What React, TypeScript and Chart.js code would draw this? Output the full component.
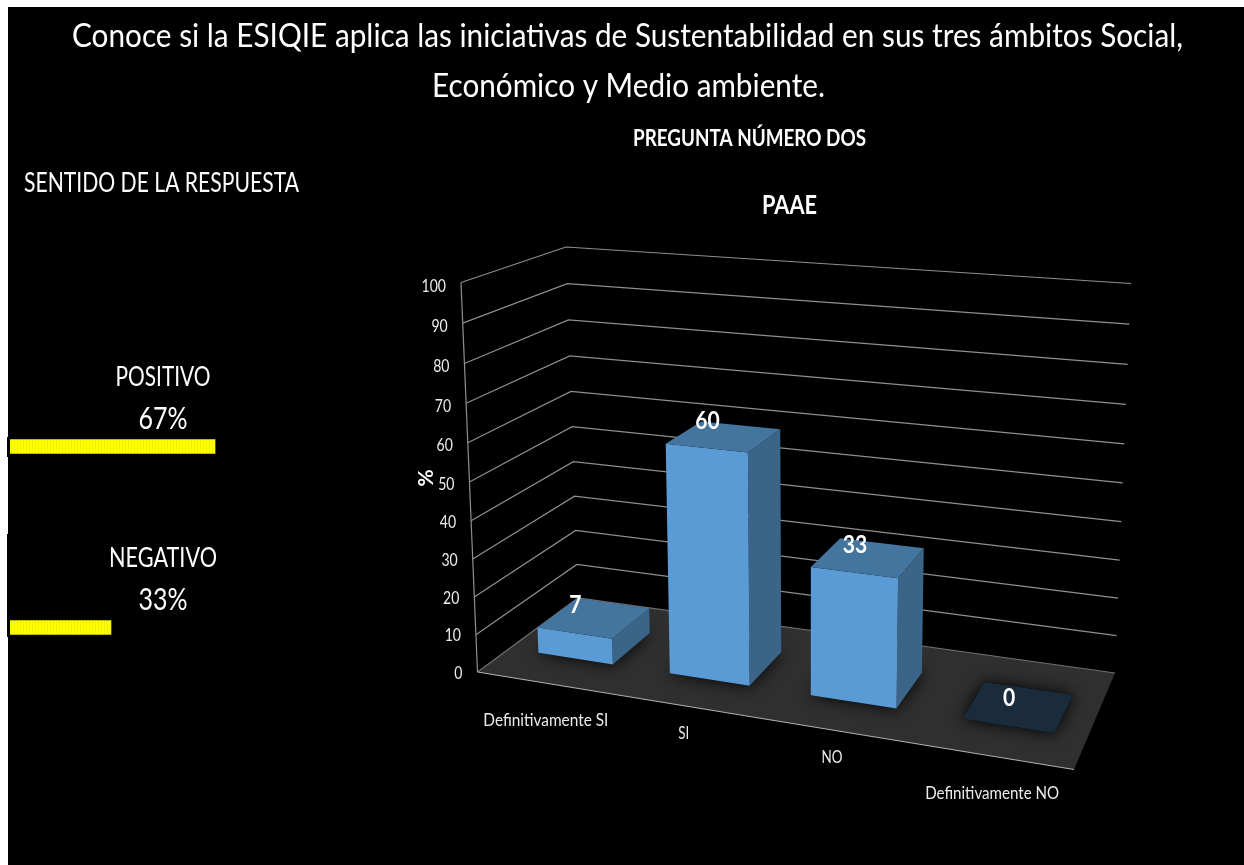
import React, { useEffect, useRef } from "react";
import { Chart, registerables } from "chart.js";

Chart.register(...registerables);

const categories = ["Definitivamente SI", "SI", "NO", "Definitivamente NO"];
const values = [7, 60, 33, 0];
const valueAxisTitle = "%";
const titleLines = [
  "Conoce si la ESIQIE aplica las iniciativas de Sustentabilidad en sus tres ámbitos Social,",
  "Económico y Medio ambiente.",
];
const subtitle = "PREGUNTA NÚMERO DOS";
const groupTitle = "PAAE";
const senseHeading = "SENTIDO DE LA RESPUESTA";
const senseLabels = ["POSITIVO", "NEGATIVO"];
const senseValues = [67, 33];

const FONT = "Lato";
const xLabelWidths = [125, 11, 21, 134];
const xLabelDy = [37, 28, 28, 37];

type Pt = [number, number];

function quad(p00: Pt, p10: Pt, p11: Pt, p01: Pt) {
  const [x0, y0] = p00, [x1, y1] = p10, [x2, y2] = p11, [x3, y3] = p01;
  const dx1 = x1 - x2, dx2 = x3 - x2, sx = x0 - x1 + x2 - x3;
  const dy1 = y1 - y2, dy2 = y3 - y2, sy = y0 - y1 + y2 - y3;
  const den = dx1 * dy2 - dx2 * dy1;
  const g = (sx * dy2 - dx2 * sy) / den;
  const h = (dx1 * sy - sx * dy1) / den;
  const a = x1 - x0 + g * x1, b = x3 - x0 + h * x3;
  const d = y1 - y0 + g * y1, e = y3 - y0 + h * y3;
  return (u: number, w: number): Pt => {
    const q = g * u + h * w + 1;
    return [(a * u + b * w + x0) / q, (d * u + e * w + y0) / q];
  };
}

// The 3D box of the plot: floor plane and the plane at the axis maximum.
const floorPlane = quad([477.5, 672], [1074, 769.5], [1115, 673], [578, 598]);
const topPlane = quad([461, 282.5], [1088.7, 330], [1131, 283.5], [566, 247]);
const HEIGHT_PERSPECTIVE = 0.953;
const project = (u: number, v: number, w: number): Pt => {
  const a = floorPlane(u, w), b = topPlane(u, w);
  const t = (v * HEIGHT_PERSPECTIVE) / (1 + v * (HEIGHT_PERSPECTIVE - 1));
  return [a[0] + (b[0] - a[0]) * t, a[1] + (b[1] - a[1]) * t];
};

const DEPTH_FRONT = 0.295;
const DEPTH_BACK = 0.7;
const BAR_SHIFT = 0.004;

function poly(ctx: CanvasRenderingContext2D, pts: Pt[], fill: string) {
  ctx.beginPath();
  pts.forEach((p, i) => (i ? ctx.lineTo(p[0], p[1]) : ctx.moveTo(p[0], p[1])));
  ctx.closePath();
  ctx.fillStyle = fill;
  ctx.fill();
}

function line(ctx: CanvasRenderingContext2D, pts: Pt[], color: string) {
  ctx.beginPath();
  pts.forEach((p, i) => (i ? ctx.lineTo(p[0], p[1]) : ctx.moveTo(p[0], p[1])));
  ctx.strokeStyle = color;
  ctx.lineWidth = 1.2;
  ctx.stroke();
}

function drawText(
  ctx: CanvasRenderingContext2D,
  text: string,
  x: number,
  y: number,
  o: { size: number; bold?: boolean; color?: string; align?: CanvasTextAlign; width?: number; sx?: number }
) {
  ctx.save();
  ctx.font = `${o.bold ? "bold " : ""}${o.size}px ${FONT}`;
  const k = o.width ? o.width / ctx.measureText(text).width : o.sx || 1;
  ctx.translate(x, y);
  ctx.scale(k, 1);
  ctx.textAlign = o.align || "center";
  ctx.textBaseline = "alphabetic";
  ctx.fillStyle = o.color || "#ffffff";
  ctx.fillText(text, 0, 0);
  ctx.restore();
}

const scene3D = {
  id: "scene3D",
  beforeDatasetsDraw(chart: any) {
    const ctx: CanvasRenderingContext2D = chart.ctx;
    const area = chart.chartArea;
    const yScale = chart.scales.y;
    const xScale = chart.scales.x;
    const vOf = (val: number) => (yScale.getPixelForValue(0) - yScale.getPixelForValue(val)) / (yScale.getPixelForValue(0) - yScale.getPixelForValue(yScale.max));

    ctx.save();
    // Page margin, then the black sheet
    ctx.fillStyle = "#ffffff";
    ctx.fillRect(0, 0, chart.width, chart.height);
    ctx.fillStyle = "#000000";
    ctx.fillRect(8, 7, chart.width - 8, chart.height - 7);
    ctx.fillRect(7, 437, 1, 20);
    ctx.fillRect(7, 534, 1, 103);

    // Titles
    drawText(ctx, titleLines[0], 627.5, 47, { size: 32, width: 1111 });
    drawText(ctx, titleLines[1], 628.5, 97, { size: 32, width: 393 });
    drawText(ctx, subtitle, 749.5, 146, { size: 23, bold: true, width: 233 });
    drawText(ctx, groupTitle, 789.5, 214, { size: 27, bold: true, width: 55 });
    drawText(ctx, senseHeading, 24, 192, { size: 27, align: "left", width: 275 });

    // Floor
    const floorPts: Pt[] = [project(0, 0, 0), project(1, 0, 0), project(1, 0, 1), project(0, 0, 1)];
    poly(ctx, floorPts, "#2f2f2f");

    // Gridlines along the side wall and the back wall
    yScale.ticks.forEach((t: any) => {
      const v = vOf(t.value);
      line(ctx, [project(0, v, 0), project(0, v, 1), project(1, v, 1)], t.value === 0 ? "#6e6e6e" : "#8f8f8f");
      const p = project(0, v, 0);
      drawText(ctx, String(t.value), p[0] - 15, p[1] + 6.5 + 2.5 * v, { size: 18, align: "right", sx: 0.78, color: "#ececec" });
    });
    line(ctx, [project(0, 0, 0), project(0, 1, 0)], "#8f8f8f");
    line(ctx, [project(0, 0, 0), project(1, 0, 0)], "#b0b0b0");

    // Bars, through the bar elements' own scale positions
    const meta = chart.getDatasetMeta(0);
    const ds = chart.data.datasets[0];
    const geom = meta.data.map((el: any, i: number) => {
      const u0 = (el.x - el.width / 2 - area.left) / area.width + BAR_SHIFT;
      const u1 = (el.x + el.width / 2 - area.left) / area.width + BAR_SHIFT;
      const v = (el.base - el.y) / area.height;
      return { u0, u1, v, uc: (el.x - area.left) / area.width + BAR_SHIFT, i };
    });

    // Soft shadows on the floor
    ctx.save();
    ctx.beginPath();
    floorPts.forEach((p, i) => (i ? ctx.lineTo(p[0], p[1]) : ctx.moveTo(p[0], p[1])));
    ctx.closePath();
    ctx.clip();
    geom.forEach((g: any) => {
      ctx.shadowColor = "rgba(0,0,0,0.95)";
      ctx.shadowBlur = 16;
      poly(ctx, [project(g.u0, 0, DEPTH_FRONT), project(g.u1, 0, DEPTH_FRONT), project(g.u1, 0, DEPTH_BACK), project(g.u0, 0, DEPTH_BACK)], "#000000");
    });
    ctx.restore();

    geom.forEach((g: any) => {
      const f0 = DEPTH_FRONT, f1 = DEPTH_BACK;
      if (g.v > 0) {
        poly(ctx, [project(g.u1, 0, f0), project(g.u1, 0, f1), project(g.u1, g.v, f1), project(g.u1, g.v, f0)], ds.sideColor);
        poly(ctx, [project(g.u0, 0, f0), project(g.u1, 0, f0), project(g.u1, g.v, f0), project(g.u0, g.v, f0)], ds.backgroundColor);
        poly(ctx, [project(g.u0, g.v, f0), project(g.u1, g.v, f0), project(g.u1, g.v, f1), project(g.u0, g.v, f1)], ds.topColor);
      } else {
        poly(ctx, [project(g.u0, 0, f0), project(g.u1, 0, f0), project(g.u1, 0, f1), project(g.u0, 0, f1)], ds.emptyColor);
      }
    });

    // Value labels
    geom.forEach((g: any) => {
      const p = project(g.uc, g.v, DEPTH_FRONT);
      drawText(ctx, String(values[g.i]), p[0] + 1, p[1] - 19.5, { size: 24, bold: true, sx: 0.88 });
    });

    // Category labels under the front floor edge
    xScale.ticks.forEach((t: any, i: number) => {
      const u = (xScale.getPixelForTick(i) - area.left) / area.width;
      const p = project(u, 0, 0);
      drawText(ctx, categories[i], p[0] + 3, p[1] + xLabelDy[i] + 6, { size: 18, width: xLabelWidths[i], color: "#ececec" });
    });

    // Value axis title
    ctx.save();
    ctx.translate(433, 478);
    ctx.rotate(-Math.PI / 2);
    drawText(ctx, valueAxisTitle, 0, 0, { size: 21, bold: true });
    ctx.restore();

    ctx.restore();
    return false;
  },
};

const senseText = {
  id: "senseText",
  afterDatasetsDraw(chart: any) {
    const ctx: CanvasRenderingContext2D = chart.ctx;
    const yScale = chart.scales.y;
    senseLabels.forEach((label, i) => {
      const y = yScale.getPixelForValue(i);
      drawText(ctx, label, 153, y - 61, { size: 26, width: i === 0 ? 95 : 108 });
      drawText(ctx, `${senseValues[i]}%`, 153, y - 17.5, { size: 30, width: 49 });
    });
  },
};

function stripes(): CanvasPattern | string {
  const c = document.createElement("canvas");
  c.width = 3;
  c.height = 1;
  const g = c.getContext("2d");
  if (!g) return "#ffff00";
  g.fillStyle = "#ffff00";
  g.fillRect(0, 0, 3, 1);
  g.fillStyle = "#f0f000";
  g.fillRect(1, 0, 1, 1);
  return g.createPattern(c, "repeat") || "#ffff00";
}

export default function App() {
  const mainRef = useRef<HTMLCanvasElement>(null);
  const sideRef = useRef<HTMLCanvasElement>(null);

  useEffect(() => {
    document.body.style.overflow = "hidden";
    const main = new Chart(mainRef.current as HTMLCanvasElement, {
      type: "bar",
      data: {
        labels: categories,
        datasets: [
          {
            label: "PAAE",
            data: values,
            backgroundColor: "#5b9bd5",
            sideColor: "#3b6588",
            topColor: "#44759f",
            emptyColor: "#1a2b3b",
            barPercentage: 1,
            categoryPercentage: 0.575,
          } as any,
        ],
      },
      options: {
        animation: false,
        responsive: false,
        layout: { padding: 0 },
        plugins: { legend: { display: false }, tooltip: { enabled: false } },
        scales: {
          x: { display: false, offset: true },
          y: { display: false, min: 0, max: 100, ticks: { stepSize: 10 } },
        },
      },
      plugins: [scene3D],
    } as any);

    const side = new Chart(sideRef.current as HTMLCanvasElement, {
      type: "bar",
      data: {
        labels: senseLabels,
        datasets: [
          {
            label: "SENTIDO DE LA RESPUESTA",
            data: senseValues,
            backgroundColor: stripes(),
            borderWidth: 0,
            barThickness: 14,
          } as any,
        ],
      },
      options: {
        indexAxis: "y",
        animation: false,
        responsive: false,
        layout: { padding: 0 },
        plugins: { legend: { display: false }, tooltip: { enabled: false } },
        scales: {
          x: { display: false, min: 0, max: 100 },
          y: { display: false },
        },
      },
      plugins: [senseText],
    } as any);

    return () => {
      main.destroy();
      side.destroy();
    };
  }, []);

  return (
    <div>
      <canvas ref={mainRef} width={1244} height={865} style={{ position: "fixed", left: 0, top: 0, width: 1244, height: 865 }} />
      <canvas ref={sideRef} width={306} height={362} style={{ position: "fixed", left: 10, top: 356, width: 306, height: 362 }} />
    </div>
  );
}
